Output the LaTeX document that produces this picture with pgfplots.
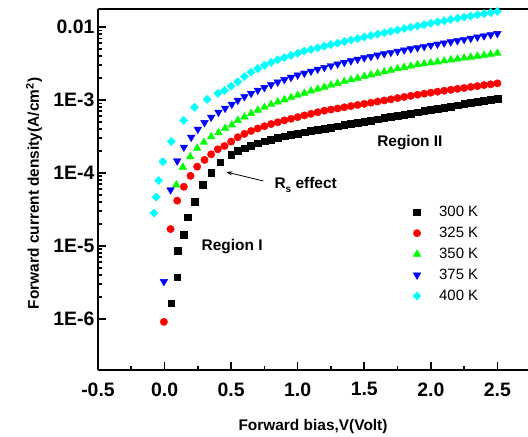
\documentclass[border=0pt]{standalone}
\usepackage{fontspec}
\setmainfont{Liberation Sans}
\usepackage{pgfplots}
\pgfplotsset{compat=1.18}
\usetikzlibrary{arrows.meta}
\definecolor{cgreen}{RGB}{0,255,0}
\definecolor{ccyan}{RGB}{0,255,255}
\begin{document}
\begin{tikzpicture}
\begin{axis}[
    name=ax,
    scale only axis, width=430bp, height=361bp,
    xmin=-0.5, xmax=2.73,
    ymode=log, ymin=1.99e-7, ymax=1.766e-2,
    axis x line*=bottom, axis y line*=left,
    axis line style={-, line width=2.4bp},
    tick align=inside, major tick length=8bp, minor tick length=4.5bp,
    tick style={line width=1.6bp, black},
    xtick={-0.5,0,0.5,1,1.5,2,2.5},
    xticklabels={-0.5,0.0,0.5,1.0,1.5,2.0,2.5},
    minor x tick num=1,
    ytick={1e-6,1e-5,1e-4,1e-3,1e-2},
    yticklabels={1E-6,1E-5,1E-4,1E-3,0.01},
    ticklabel style={font=\fontsize{19.5}{20}\selectfont\bfseries},
    xticklabel style={yshift=-9bp},
    xlabel={Forward bias,V(Volt)},
    ylabel={Forward current density(A/cm\textsuperscript{2})},
    every axis x label/.style={at={([yshift=-56bp]rel axis cs:0.5,0)}, anchor=center,
      font=\fontsize{15.5}{16}\selectfont\bfseries},
    every axis y label/.style={at={([xshift=-64bp,yshift=-4bp]rel axis cs:0,0.5)}, rotate=90, anchor=center,
      font=\fontsize{15.5}{16}\selectfont\bfseries},
    legend style={draw=none, fill=none, at={(0.725,0.465)}, anchor=north west,
      font=\fontsize{15}{15}\selectfont, row sep=5bp,
      /tikz/every odd column/.append style={column sep=16bp}},
    legend cell align=left,
    clip=false,
  ]
  % 300 K
  \addplot[only marks, mark=square*, mark size=3.4bp, black] coordinates {
    (0.05,1.64e-6)(0.095,3.72e-6)(0.10,8.51e-6)(0.143,1.41e-5)(0.175,2.47e-5)
    (0.225,4.07e-5)(0.288,6.85e-5)(0.35,1.01e-4)(0.418,1.40e-4)(0.50,1.77e-4)
    (0.55,2.00e-4)(0.60,2.18e-4)(0.65,2.38e-4)(0.70,2.55e-4)(0.75,2.73e-4)
    (0.80,2.88e-4)(0.85,3.03e-4)(0.90,3.18e-4)(0.95,3.32e-4)(1.00,3.46e-4)
    (1.05,3.61e-4)(1.10,3.75e-4)(1.15,3.90e-4)(1.20,4.06e-4)(1.25,4.21e-4)
    (1.30,4.37e-4)(1.35,4.53e-4)(1.40,4.70e-4)(1.45,4.88e-4)(1.50,5.06e-4)
    (1.55,5.25e-4)(1.60,5.45e-4)(1.65,5.65e-4)(1.70,5.86e-4)(1.75,6.08e-4)
    (1.80,6.31e-4)(1.85,6.55e-4)(1.90,6.79e-4)(1.95,7.05e-4)(2.00,7.31e-4)
    (2.05,7.59e-4)(2.10,7.87e-4)(2.15,8.17e-4)(2.20,8.47e-4)(2.25,8.79e-4)
    (2.30,9.12e-4)(2.35,9.46e-4)(2.40,9.82e-4)(2.45,1.02e-3)(2.50,1.05e-3)};
  \addlegendentry{300 K}
  % 325 K
  \addplot[only marks, mark=*, mark size=3.7bp, red] coordinates {
    (-0.005,9.1e-7)(0.045,1.70e-5)(0.095,4.17e-5)(0.145,6.46e-5)(0.195,9.12e-5)
    (0.245,1.22e-4)(0.30,1.51e-4)(0.35,1.80e-4)(0.40,2.11e-4)(0.45,2.34e-4)
    (0.50,2.69e-4)(0.55,3.08e-4)(0.60,3.43e-4)(0.65,3.76e-4)(0.70,4.07e-4)
    (0.75,4.37e-4)(0.80,4.68e-4)(0.85,4.95e-4)(0.90,5.25e-4)(0.95,5.53e-4)
    (1.00,5.82e-4)(1.05,6.14e-4)(1.10,6.46e-4)(1.15,6.79e-4)(1.20,7.13e-4)
    (1.25,7.40e-4)(1.30,7.66e-4)(1.35,7.94e-4)(1.40,8.24e-4)(1.45,8.53e-4)
    (1.50,8.85e-4)(1.55,9.18e-4)(1.60,9.51e-4)(1.65,9.86e-4)(1.70,1.02e-3)
    (1.75,1.06e-3)(1.80,1.10e-3)(1.85,1.14e-3)(1.90,1.18e-3)(1.95,1.22e-3)
    (2.00,1.26e-3)(2.05,1.30e-3)(2.10,1.34e-3)(2.15,1.38e-3)(2.20,1.42e-3)
    (2.25,1.46e-3)(2.30,1.51e-3)(2.35,1.55e-3)(2.40,1.60e-3)(2.45,1.64e-3)
    (2.50,1.69e-3)};
  \addlegendentry{325 K}
  % 350 K
  \addplot[only marks, mark=triangle*, mark size=4.4bp, cgreen] coordinates {
    (0.088,6.85e-5)(0.138,1.20e-4)(0.193,1.67e-4)(0.245,2.18e-4)(0.295,2.63e-4)
    (0.35,3.14e-4)(0.405,3.56e-4)(0.455,4.09e-4)(0.505,4.55e-4)(0.55,5.25e-4)
    (0.60,5.86e-4)(0.65,6.53e-4)(0.70,7.24e-4)(0.75,7.94e-4)(0.80,8.67e-4)
    (0.85,9.40e-4)(0.90,1.01e-3)(0.95,1.08e-3)(1.00,1.16e-3)(1.05,1.24e-3)
    (1.10,1.33e-3)(1.15,1.41e-3)(1.20,1.50e-3)(1.25,1.60e-3)(1.30,1.69e-3)
    (1.35,1.79e-3)(1.40,1.89e-3)(1.45,1.99e-3)(1.50,2.10e-3)(1.55,2.21e-3)
    (1.60,2.32e-3)(1.65,2.44e-3)(1.70,2.56e-3)(1.75,2.68e-3)(1.80,2.80e-3)
    (1.85,2.92e-3)(1.90,3.05e-3)(1.95,3.14e-3)(2.00,3.24e-3)(2.05,3.33e-3)
    (2.10,3.44e-3)(2.15,3.54e-3)(2.20,3.65e-3)(2.25,3.76e-3)(2.30,3.87e-3)
    (2.35,3.99e-3)(2.40,4.11e-3)(2.45,4.24e-3)(2.50,4.37e-3)};
  \addlegendentry{350 K}
  % 375 K
  \addplot[only marks, mark=triangle*, mark size=4.4bp, mark options={rotate=180}, blue] coordinates {
    (-0.005,3.24e-6)(0.045,5.85e-5)(0.095,1.46e-4)(0.145,2.25e-4)(0.20,3.08e-4)
    (0.25,3.97e-4)(0.30,4.89e-4)(0.35,5.79e-4)(0.405,6.79e-4)(0.455,7.69e-4)
    (0.505,8.73e-4)(0.55,9.89e-4)(0.60,1.11e-3)(0.65,1.23e-3)(0.70,1.36e-3)
    (0.75,1.48e-3)(0.80,1.62e-3)(0.85,1.76e-3)(0.90,1.90e-3)(0.95,2.04e-3)
    (1.00,2.19e-3)(1.05,2.33e-3)(1.10,2.48e-3)(1.15,2.64e-3)(1.20,2.79e-3)
    (1.25,2.95e-3)(1.30,3.11e-3)(1.35,3.27e-3)(1.40,3.44e-3)(1.45,3.61e-3)
    (1.50,3.78e-3)(1.55,3.94e-3)(1.60,4.12e-3)(1.65,4.30e-3)(1.70,4.48e-3)
    (1.75,4.66e-3)(1.80,4.84e-3)(1.85,5.02e-3)(1.90,5.21e-3)(1.95,5.41e-3)
    (2.00,5.61e-3)(2.05,5.82e-3)(2.10,6.04e-3)(2.15,6.27e-3)(2.20,6.50e-3)
    (2.25,6.75e-3)(2.30,7.00e-3)(2.35,7.28e-3)(2.40,7.55e-3)(2.45,7.83e-3)
    (2.50,8.13e-3)};
  \addlegendentry{375 K}
  % 400 K
  \addplot[only marks, mark=square*, mark size=2.9bp, mark options={rotate=45}, ccyan] coordinates {
    (-0.08,2.82e-5)(-0.062,4.68e-5)(-0.045,7.85e-5)(-0.012,1.43e-4)(0.05,2.69e-4)
    (0.143,5.25e-4)(0.225,7.94e-4)(0.32,1.02e-3)(0.40,1.23e-3)(0.45,1.35e-3)
    (0.50,1.55e-3)(0.55,1.78e-3)(0.60,2.09e-3)(0.65,2.40e-3)(0.70,2.69e-3)
    (0.75,2.99e-3)(0.80,3.27e-3)(0.85,3.55e-3)(0.90,3.80e-3)(0.95,4.07e-3)
    (1.00,4.37e-3)(1.05,4.69e-3)(1.10,4.93e-3)(1.15,5.19e-3)(1.20,5.46e-3)
    (1.25,5.74e-3)(1.30,6.03e-3)(1.35,6.32e-3)(1.40,6.64e-3)(1.45,6.95e-3)
    (1.50,7.28e-3)(1.55,7.62e-3)(1.60,7.98e-3)(1.65,8.36e-3)(1.70,8.73e-3)
    (1.75,9.12e-3)(1.80,9.53e-3)(1.85,9.93e-3)(1.90,1.035e-2)(1.95,1.079e-2)
    (2.00,1.125e-2)(2.05,1.172e-2)(2.10,1.219e-2)(2.15,1.268e-2)(2.20,1.318e-2)
    (2.25,1.368e-2)(2.30,1.419e-2)(2.35,1.472e-2)(2.40,1.528e-2)(2.45,1.585e-2)
    (2.50,1.641e-2)};
  \addlegendentry{400 K}
  % frame top and annotations
  \draw[line width=1.2bp] (rel axis cs:0,1) -- (rel axis cs:1,1);
  \node[font=\fontsize{15.5}{16}\selectfont\bfseries] at (axis cs:0.508,9.7e-6) {Region I};
  \node[font=\fontsize{15.5}{16}\selectfont\bfseries] at (axis cs:1.843,2.58e-4) {Region II};
  \node[font=\fontsize{15.5}{16}\selectfont\bfseries, anchor=west] at (axis cs:0.80,6.85e-5)
    {R\raisebox{-0.45ex}{\fontsize{10}{10}\selectfont s} effect};
  \draw[-{Stealth[length=6bp,width=4bp]}, line width=0.8bp]
    (axis cs:0.742,7.76e-5) -- (axis cs:0.463,1.03e-4);
\end{axis}
\pgfresetboundingbox
\path[use as bounding box] ([xshift=-98bp,yshift=-67bp]ax.south west) rectangle ([yshift=9bp]ax.north east);
\end{tikzpicture}
\end{document}
